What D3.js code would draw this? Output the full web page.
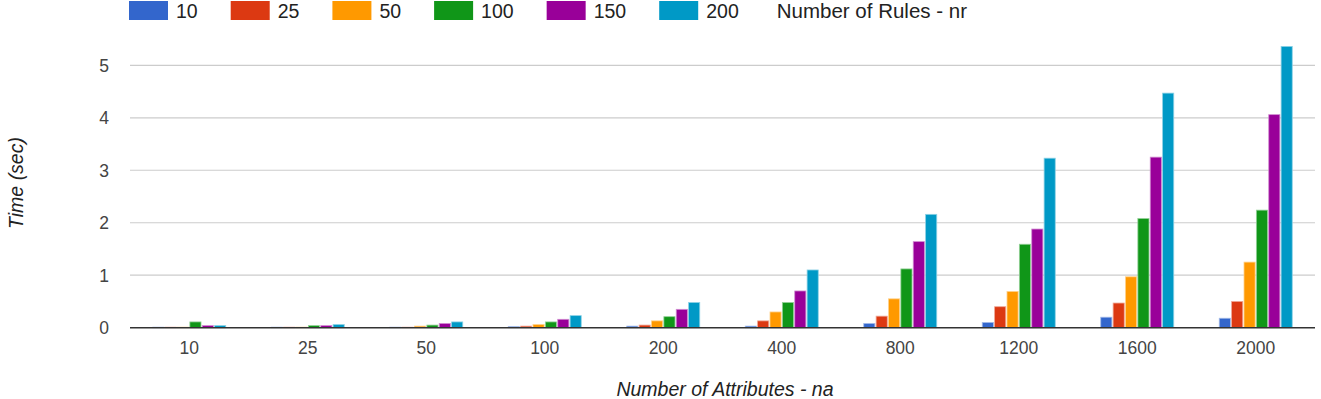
<!DOCTYPE html>
<html>
<head>
<meta charset="utf-8">
<script src="https://cdn.jsdelivr.net/npm/d3@7"></script>
<style>
  body { margin: 0; background: #fff; }
  svg { font-family: "Liberation Sans", Arial, sans-serif; }
</style>
</head>
<body>
<script>
// Number of Attributes - na (x groups)
var categories = ["10", "25", "50", "100", "200", "400", "800", "1200", "1600", "2000"];
// Number of Rules - nr (series)
var seriesNames = ["10", "25", "50", "100", "150", "200"];
var colors = ["#3366cc", "#dc3912", "#ff9900", "#109618", "#990099", "#0099c6"];

// time in seconds, one array per nr, ordered like categories
var nr10  = [0.01, 0.01, 0.01, 0.02, 0.03, 0.03, 0.08, 0.10, 0.20, 0.18];
var nr25  = [0.01, 0.01, 0.01, 0.03, 0.05, 0.13, 0.22, 0.40, 0.47, 0.50];
var nr50  = [0.01, 0.01, 0.03, 0.06, 0.13, 0.30, 0.55, 0.69, 0.97, 1.25];
var nr100 = [0.11, 0.04, 0.05, 0.11, 0.21, 0.48, 1.12, 1.59, 2.08, 2.24];
var nr150 = [0.04, 0.04, 0.08, 0.16, 0.35, 0.70, 1.64, 1.88, 3.25, 4.06];
var nr200 = [0.04, 0.06, 0.11, 0.23, 0.48, 1.10, 2.16, 3.23, 4.47, 5.36];
var yTicks = [0, 1, 2, 3, 4, 5];

var seriesValues = [nr10, nr25, nr50, nr100, nr150, nr200];

var width = 1321, height = 399;
var left = 130, right = 1315, base = 327.7, unit = 52.48;

var svg = d3.select("body").append("svg")
  .attr("width", width)
  .attr("height", height);

var x0 = d3.scaleBand()
  .domain(categories)
  .range([left, right]);

var groupW = 73;
var x1 = d3.scaleBand()
  .domain(seriesNames)
  .range([0, groupW])
  .paddingInner(0.1);

var y = d3.scaleLinear()
  .domain([0, 6])
  .range([base, base - 6 * unit]);

// gridlines
svg.append("g")
  .selectAll("line")
  .data(yTicks.filter(function(d) { return d > 0; }))
  .enter().append("line")
  .attr("x1", left).attr("x2", right)
  .attr("y1", function(d) { return y(d); })
  .attr("y2", function(d) { return y(d); })
  .attr("stroke", "#cccccc")
  .attr("stroke-width", 1.2);

// y tick labels
svg.append("g")
  .selectAll("text")
  .data(yTicks)
  .enter().append("text")
  .attr("x", 109)
  .attr("y", function(d) { return y(d); })
  .attr("dy", "0.36em")
  .attr("text-anchor", "end")
  .attr("fill", "#444")
  .style("font-size", "17.5px")
  .text(function(d) { return d; });

// bars
var groups = svg.append("g")
  .selectAll("g")
  .data(categories)
  .enter().append("g")
  .attr("transform", function(d) {
    return "translate(" + (x0(d) + (x0.bandwidth() - groupW) / 2) + ",0)";
  });

groups.selectAll("rect")
  .data(function(d, i) {
    return seriesNames.map(function(s, j) {
      return { s: s, v: seriesValues[j][i], c: colors[j] };
    });
  })
  .enter().append("rect")
  .attr("x", function(d) { return x1(d.s); })
  .attr("width", x1.bandwidth())
  .attr("y", function(d) { return y(d.v); })
  .attr("height", function(d) { return base - y(d.v); })
  .attr("fill", function(d) { return d.c; })
  .attr("stroke", function(d) { return d3.interpolateRgb(d.c, "#fff")(0.55); })
  .attr("stroke-width", 0.8);

// baseline
svg.append("line")
  .attr("x1", left).attr("x2", right)
  .attr("y1", base).attr("y2", base)
  .attr("stroke", "#333")
  .attr("stroke-width", 1.5);

// x tick labels
svg.append("g")
  .selectAll("text")
  .data(categories)
  .enter().append("text")
  .attr("x", function(d) { return x0(d) + x0.bandwidth() / 2; })
  .attr("y", 354)
  .attr("text-anchor", "middle")
  .attr("fill", "#444")
  .style("font-size", "17.5px")
  .text(function(d) { return d; });

// axis titles
svg.append("text")
  .attr("x", 725)
  .attr("y", 396)
  .attr("text-anchor", "middle")
  .attr("fill", "#222")
  .style("font-size", "19.5px")
  .style("font-style", "italic")
  .text("Number of Attributes - na");

svg.append("text")
  .attr("transform", "translate(23,183)rotate(-90)")
  .attr("text-anchor", "middle")
  .attr("fill", "#222")
  .style("font-size", "19.5px")
  .style("font-style", "italic")
  .text("Time (sec)");

// legend
var legend = svg.append("g");
var lx = 129;
seriesNames.forEach(function(s, i) {
  legend.append("rect")
    .attr("x", lx).attr("y", 1)
    .attr("width", 39).attr("height", 19)
    .attr("fill", colors[i]);
  var t = legend.append("text")
    .attr("x", lx + 47).attr("y", 18.3)
    .attr("fill", "#222")
    .style("font-size", "19.5px")
    .text(s);
  lx += 47 + t.node().getComputedTextLength() + 33;
});
legend.append("text")
  .attr("x", lx + 5).attr("y", 18.3)
  .attr("fill", "#222")
  .style("font-size", "20.5px")
  .text("Number of Rules - nr");
</script>
</body>
</html>
